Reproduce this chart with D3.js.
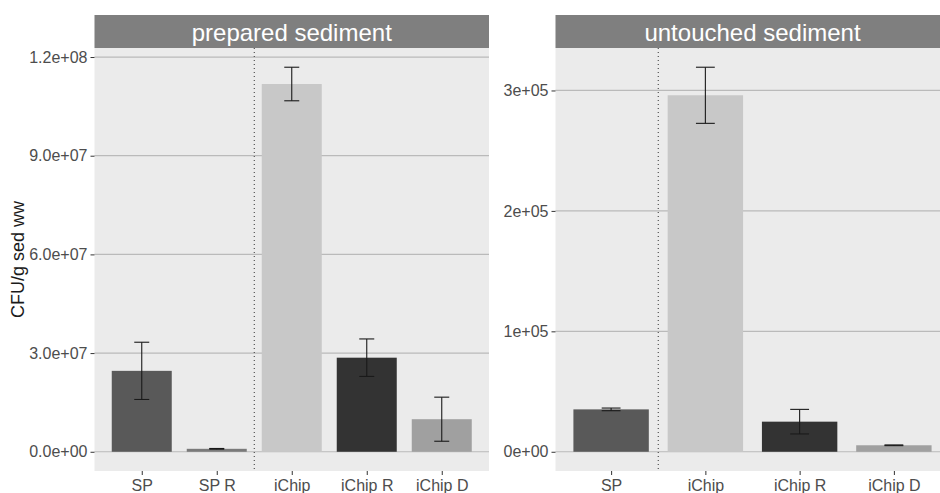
<!DOCTYPE html>
<html>
<head>
<meta charset="utf-8">
<script src="https://cdn.jsdelivr.net/npm/d3@7"></script>
<style>
  body { margin: 0; background: #fff; }
  svg { display: block; font-family: "Liberation Sans", Arial, sans-serif; }
</style>
</head>
<body>
<script>
var width = 940,
    height = 493;

// categories per facet
var prepCats = ["SP", "SP R", "iChip", "iChip R", "iChip D"];
var untouchedCats = ["SP", "iChip", "iChip R", "iChip D"];

// mean CFU/g and standard error
var prepMeans = [2.46e7, 9.0e5, 1.118e8, 2.86e7, 9.9e6];
var prepErrs  = [8.7e6, 1.0e5, 5.1e6, 5.7e6, 6.7e6];
var untouchedMeans = [3.52e4, 2.96e5, 2.5e4, 5.4e3];
var untouchedErrs  = [1.1e3, 2.33e4, 1.02e4, 3.0e2];

var prepTicks = [0, 3e7, 6e7, 9e7, 1.2e8];
var untouchedTicks = [0, 1e5, 2e5, 3e5];

var fills = {
  "SP": "#595959",
  "SP R": "#7a7a7a",
  "iChip": "#c8c8c8",
  "iChip R": "#333333",
  "iChip D": "#a0a0a0"
};

// scientific labels like R: 1.2e+08
function sci(digits) {
  return function(v) {
    var s = v.toExponential(digits).split("e");
    var e = +s[1];
    var sign = e < 0 ? "-" : "+";
    e = Math.abs(e);
    return s[0] + "e" + sign + (e < 10 ? "0" + e : e);
  };
}

var svg = d3.select("body").append("svg")
    .attr("width", width)
    .attr("height", height);

var stripTop = 15, panelTop = 48, panelBottom = 471;

var facets = [
  { title: "prepared sediment", cats: prepCats, means: prepMeans, errs: prepErrs,
    ticks: prepTicks, fmt: sci(1), x0: 94.5, x1: 489, pad: 0.63 },
  { title: "untouched sediment", cats: untouchedCats, means: untouchedMeans, errs: untouchedErrs,
    ticks: untouchedTicks, fmt: sci(0), x0: 555.5, x1: 949.5, pad: 0.59 }
];

facets.forEach(function(f) {
  var data = f.cats.map(function(c, i) { return { cat: c, mean: f.means[i], se: f.errs[i] }; });

  var hi = d3.max(data, function(d) { return d.mean + d.se; });
  var y = d3.scaleLinear()
      .domain([-0.05 * hi, hi * 1.05])
      .range([panelBottom, panelTop]);

  var x = d3.scalePoint()
      .domain(f.cats)
      .range([f.x0, f.x1])
      .padding(f.pad);

  var step = x.step(),
      barW = step * 0.8,
      capW = step * 0.2;

  var g = svg.append("g");

  // panel background
  g.append("rect")
      .attr("x", f.x0).attr("y", panelTop)
      .attr("width", f.x1 - f.x0).attr("height", panelBottom - panelTop)
      .attr("fill", "#ebebeb");

  // grid
  g.selectAll(".grid")
      .data(f.ticks)
    .enter().append("line")
      .attr("x1", f.x0).attr("x2", f.x1)
      .attr("y1", function(d) { return y(d); })
      .attr("y2", function(d) { return y(d); })
      .attr("stroke", "#bababa")
      .attr("stroke-width", 1.2);

  // strip
  g.append("rect")
      .attr("x", f.x0).attr("y", stripTop)
      .attr("width", f.x1 - f.x0).attr("height", panelTop - stripTop)
      .attr("fill", "#7f7f7f");

  g.append("text")
      .attr("x", (f.x0 + f.x1) / 2)
      .attr("y", 40.5)
      .attr("text-anchor", "middle")
      .attr("fill", "#ffffff")
      .style("font-size", "24px")
      .text(f.title);

  // dotted separator before the iChip group
  var sepIdx = f.cats.indexOf("iChip");
  var sepX = x(f.cats[sepIdx]) - step / 2;
  g.append("line")
      .attr("x1", sepX).attr("x2", sepX)
      .attr("y1", panelTop).attr("y2", panelBottom)
      .attr("stroke", "#333")
      .attr("stroke-width", 1)
      .attr("stroke-dasharray", "1,3");

  // bars
  g.selectAll(".bar")
      .data(data)
    .enter().append("rect")
      .attr("x", function(d) { return x(d.cat) - barW / 2; })
      .attr("width", barW)
      .attr("y", function(d) { return y(d.mean); })
      .attr("height", function(d) { return y(0) - y(d.mean); })
      .attr("fill", function(d) { return fills[d.cat]; });

  // error bars
  var eb = g.selectAll(".err")
      .data(data)
    .enter().append("g")
      .attr("stroke", "#1a1a1a")
      .attr("stroke-width", 1.1);

  eb.append("line")
      .attr("x1", function(d) { return x(d.cat); })
      .attr("x2", function(d) { return x(d.cat); })
      .attr("y1", function(d) { return y(d.mean - d.se); })
      .attr("y2", function(d) { return y(d.mean + d.se); });
  eb.append("line")
      .attr("x1", function(d) { return x(d.cat) - capW / 2; })
      .attr("x2", function(d) { return x(d.cat) + capW / 2; })
      .attr("y1", function(d) { return y(d.mean + d.se); })
      .attr("y2", function(d) { return y(d.mean + d.se); });
  eb.append("line")
      .attr("x1", function(d) { return x(d.cat) - capW / 2; })
      .attr("x2", function(d) { return x(d.cat) + capW / 2; })
      .attr("y1", function(d) { return y(d.mean - d.se); })
      .attr("y2", function(d) { return y(d.mean - d.se); });

  // axes
  var yAxis = g.append("g")
      .attr("transform", "translate(" + f.x0 + ",0)")
      .call(d3.axisLeft(y).tickValues(f.ticks).tickFormat(f.fmt).tickSize(4).tickPadding(3));
  var xAxis = g.append("g")
      .attr("transform", "translate(0," + panelBottom + ")")
      .call(d3.axisBottom(x).tickSize(4).tickPadding(5));

  [yAxis, xAxis].forEach(function(a) {
    a.select(".domain").remove();
    a.selectAll(".tick line").attr("stroke", "#333");
    a.selectAll(".tick text")
        .attr("fill", "#4d4d4d")
        .style("font-size", "16px")
        .style("font-family", "Liberation Sans, Arial, sans-serif");
  });
});

// y title
svg.append("text")
    .attr("transform", "translate(24," + ((panelTop + panelBottom) / 2) + ") rotate(-90)")
    .attr("text-anchor", "middle")
    .attr("fill", "#1a1a1a")
    .style("font-size", "18px")
    .text("CFU/g sed ww");
</script>
</body>
</html>
